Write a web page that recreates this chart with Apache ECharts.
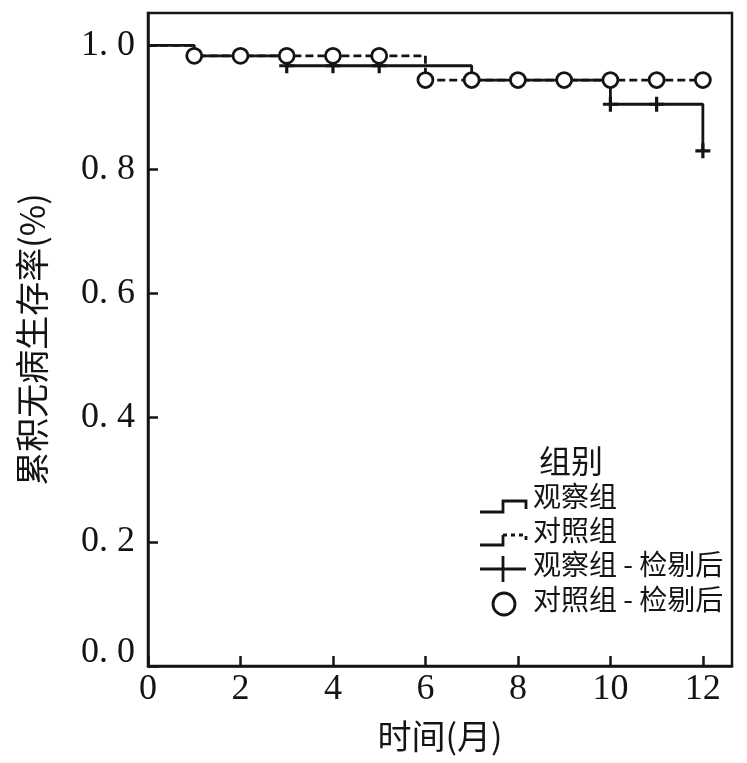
<!DOCTYPE html>
<html>
<head>
<meta charset="utf-8">
<script src="https://cdn.jsdelivr.net/npm/echarts@6/dist/echarts.min.js"></script>
<style>
  html, body { margin: 0; padding: 0; background: #fff; }
  #chart { width: 747px; height: 763px; }
</style>
</head>
<body>
<div id="chart"></div>
<script>
// ---- data ----
const obsTimes = [0, 1, 3, 7, 10, 12];
const obsSurv = [1.0, 0.983, 0.967, 0.944, 0.905, 0.830];
const ctlTimes = [0, 1, 6, 12];
const ctlSurv = [1.0, 0.983, 0.944, 0.944];
const obsCensorTimes = [3, 4, 5, 10, 11, 12];
const obsCensorSurv = [0.967, 0.967, 0.967, 0.905, 0.905, 0.830];
const ctlCensorTimes = [1, 2, 3, 4, 5, 6, 7, 8, 9, 10, 11, 12];
const ctlCensorSurv = [0.983, 0.983, 0.983, 0.983, 0.983, 0.944, 0.944, 0.944, 0.944, 0.944, 0.944, 0.944];
const xTickValues = [0, 2, 4, 6, 8, 10, 12];
const yTickValues = [0.0, 0.2, 0.4, 0.6, 0.8, 1.0];
const xTitle = '时间(月)';
const yTitle = '累积无病生存率(%)';
const legendTitle = '组别';
const legendLabels = ['观察组', '对照组', '观察组 - 检剔后', '对照组 - 检剔后'];

const zip = (a, b) => a.map((v, i) => [v, b[i]]);
const INK = '#141414';
const SERIF = '"Liberation Serif", "DejaVu Serif", serif';
const CJK = '"Noto Sans CJK SC", "Noto Sans", sans-serif';

const crossPath = 'path://M5.5,0H8.5V5.5H14V8.5H8.5V14H5.5V8.5H0V5.5H5.5Z';

const chart = echarts.init(document.getElementById('chart'), null, { renderer: 'canvas' });

const isTick = (v, arr) => arr.some(t => Math.abs(t - v) < 1e-6);

const option = {
  backgroundColor: '#fff',
  animation: false,
  grid: {
    left: 148, right: 15, top: 13, bottom: 97,
    show: true, borderColor: INK, borderWidth: 2.5, backgroundColor: 'transparent'
  },
  xAxis: {
    type: 'value', min: 0, max: 12.63, interval: 2,
    name: xTitle, nameLocation: 'middle', nameGap: 53,
    nameTextStyle: { fontFamily: CJK, fontSize: 34, color: INK },
    axisLine: { show: true, onZero: false, lineStyle: { color: INK, width: 2.5 } },
    axisTick: { show: true, inside: true, length: 10, lineStyle: { color: INK, width: 2.5 } },
    splitLine: { show: false },
    axisLabel: {
      showMaxLabel: false, margin: 6,
      fontFamily: SERIF, fontSize: 36, color: INK,
      formatter: v => isTick(v, xTickValues) ? String(Math.round(v)) : ''
    }
  },
  yAxis: {
    type: 'value', min: 0, max: 1.052, interval: 0.2,
    name: yTitle, nameLocation: 'middle', nameGap: 99, nameRotate: 90,
    nameTextStyle: { fontFamily: CJK, fontSize: 34, color: INK },
    axisLine: { show: true, onZero: false, lineStyle: { color: INK, width: 2.5 } },
    axisTick: { show: true, inside: true, length: 10, lineStyle: { color: INK, width: 2.5 } },
    splitLine: { show: false },
    axisLabel: {
      showMaxLabel: false, margin: 13,
      fontFamily: SERIF, fontSize: 36, color: INK,
      formatter: v => {
        if (!isTick(v, yTickValues)) return '';
        const s = v.toFixed(1).replace('.', '. ');
        return v === 0 ? '{z|' + s + '}' : s;
      },
      rich: { z: { fontFamily: SERIF, fontSize: 36, color: INK, padding: [0, 0, 26, 0] } }
    }
  },
  series: [
    {
      name: legendLabels[0], type: 'line', step: 'end', symbol: 'none', z: 2,
      data: zip(obsTimes, obsSurv),
      lineStyle: { color: INK, width: 2.8 }
    },
    {
      name: legendLabels[1], type: 'line', step: 'end', symbol: 'none', z: 3,
      data: zip(ctlTimes, ctlSurv),
      lineStyle: { color: INK, width: 2.8, type: [8, 4] }
    },
    {
      name: legendLabels[2], type: 'scatter', symbol: crossPath, symbolSize: 15, z: 4,
      data: zip(obsCensorTimes, obsCensorSurv),
      itemStyle: { color: INK, opacity: 1 }
    },
    {
      name: legendLabels[3], type: 'scatter', symbol: 'circle', symbolSize: 15, z: 5,
      data: zip(ctlCensorTimes, ctlCensorSurv),
      itemStyle: { color: '#fff', borderColor: INK, borderWidth: 2.8, opacity: 1 }
    }
  ],
  graphic: [
    { type: 'text', left: 539, top: 445, style: { text: legendTitle, font: '32px ' + CJK, fill: INK } },
    // step icon (solid)
    { type: 'polyline', shape: { points: [[480, 512], [503, 512], [503, 501], [526, 501], [526, 509]] },
      style: { stroke: INK, lineWidth: 2.8, fill: null } },
    { type: 'text', left: 533, top: 482, style: { text: legendLabels[0], font: '28px ' + CJK, fill: INK } },
    // step icon (dashed top)
    { type: 'polyline', shape: { points: [[480, 545], [503, 545], [503, 535]] }, style: { stroke: INK, lineWidth: 2.8, fill: null } },
    { type: 'polyline', shape: { points: [[503, 535], [526, 535], [526, 542]] },
      style: { stroke: INK, lineWidth: 2.8, fill: null, lineDash: [4, 4] } },
    { type: 'text', left: 533, top: 516, style: { text: legendLabels[1], font: '28px ' + CJK, fill: INK } },
    // cross icon
    { type: 'line', shape: { x1: 480, y1: 569, x2: 526, y2: 569 }, style: { stroke: INK, lineWidth: 2.8 } },
    { type: 'line', shape: { x1: 503, y1: 556, x2: 503, y2: 582 }, style: { stroke: INK, lineWidth: 2.8 } },
    { type: 'text', left: 533, top: 550, style: { text: legendLabels[2], font: '28px ' + CJK, fill: INK } },
    // circle icon
    { type: 'circle', shape: { cx: 504, cy: 604, r: 11 }, style: { stroke: INK, lineWidth: 2.8, fill: '#fff' } },
    { type: 'text', left: 533, top: 585, style: { text: legendLabels[3], font: '28px ' + CJK, fill: INK } }
  ]
};

chart.setOption(option);
</script>
</body>
</html>
